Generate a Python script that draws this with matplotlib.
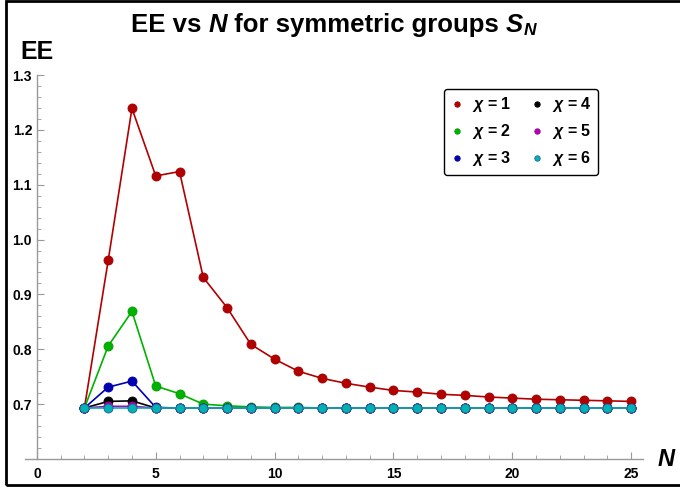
import numpy as np
import matplotlib
matplotlib.use("Agg")
import matplotlib.pyplot as plt
from matplotlib.patches import Rectangle
from matplotlib.ticker import MultipleLocator

plt.rcParams['font.family'] = ['Liberation Sans', 'DejaVu Sans']
plt.rcParams['mathtext.fontset'] = 'custom'
plt.rcParams['mathtext.it'] = 'Liberation Sans:italic:bold'
plt.rcParams['mathtext.rm'] = 'Liberation Sans:bold'

# dati
N = np.arange(2, 26)
ee_chi1 = [0.693, 0.962, 1.239, 1.116, 1.124, 0.931, 0.876, 0.809, 0.782, 0.760,
           0.747, 0.738, 0.731, 0.725, 0.722, 0.718, 0.716, 0.713, 0.711, 0.709,
           0.708, 0.707, 0.706, 0.705]
ee_chi2 = [0.693, 0.806, 0.869, 0.733, 0.719, 0.700, 0.697, 0.695, 0.694, 0.694,
           0.693, 0.693, 0.693, 0.693, 0.693, 0.693, 0.693, 0.693, 0.693, 0.693,
           0.693, 0.693, 0.693, 0.693]
ee_chi3 = [0.693, 0.731, 0.742, 0.694] + [0.693] * 20
ee_chi4 = [0.693, 0.705, 0.706, 0.693] + [0.693] * 20
ee_chi5 = [0.693, 0.696, 0.696, 0.693] + [0.693] * 20
ee_chi6 = [0.693] * 24

series = [ee_chi1, ee_chi2, ee_chi3, ee_chi4, ee_chi5, ee_chi6]
labels = [r"$\chi$ = %d" % (i + 1) for i in range(6)]
colori = ["#b20000", "#00b200", "#0000b2", "#000000", "#b200b2", "#00b2b2"]
bordi = ["#a00000", "#00a000", "#0000a0", "#000000", "#a000a0", "#2060a0"]

fig = plt.figure(figsize=(6.8, 4.87), dpi=100)
ax = fig.add_axes([25/680, 1 - 459/487, 618/680, 384/487])

for y, c, e, lab in zip(series, colori, bordi, labels):
    ax.plot(N, y, "-o", color=c, lw=1.2, ms=6.5, mec=e, mew=0.6, label=lab)

ax.set_xlim(-0.5, 25.5)
ax.set_ylim(0.6, 1.3)
ax.spines['left'].set_position(('data', 0))
ax.spines['right'].set_visible(False)
ax.spines['top'].set_visible(False)
for s in ['left', 'bottom']:
    ax.spines[s].set_color('#999999')
    ax.spines[s].set_linewidth(1.0)

ax.xaxis.set_major_locator(MultipleLocator(5))
ax.xaxis.set_minor_locator(MultipleLocator(1))
ax.yaxis.set_major_locator(MultipleLocator(0.1))
ax.yaxis.set_minor_locator(MultipleLocator(0.02))
ax.set_xticks([0, 5, 10, 15, 20, 25])
ax.set_yticks([0.7, 0.8, 0.9, 1.0, 1.1, 1.2, 1.3])
ax.set_yticklabels(["0.7", "0.8", "0.9", "1.0", "1.1", "1.2", "1.3"])
ax.tick_params(which='both', direction='in', color='#999999')
ax.tick_params(which='major', length=5, width=0.8, labelsize=10)
ax.tick_params(axis='x', which='major', pad=6)
ax.tick_params(axis='y', which='major', pad=3.5)
ax.tick_params(which='minor', length=3, width=0.6)
for t in ax.get_xticklabels() + ax.get_yticklabels():
    t.set_fontweight('bold')

# titolo costruito a pezzi per avere il corsivo
titolo = [("EE vs ", 'normal'), ("N", 'italic'), (" for symmetric groups ", 'normal'), ("S", 'italic')]
r = fig.canvas.get_renderer()
parti = []
for s, st in titolo:
    parti.append(fig.text(0, 1 - 32/487, s, fontsize=18.5, fontweight='bold', style=st, va='baseline'))
pedice = fig.text(0, 1 - 35/487, "N", fontsize=12.5, fontweight='bold', style='italic', va='baseline')
larg = [p.get_window_extent(r).width for p in parti] + [pedice.get_window_extent(r).width]
x = 333.5 - sum(larg) / 2
for p, w in zip(parti + [pedice], larg):
    p.set_x(x / 680)
    x += w

fig.text(20/680, 1 - 52/487, "EE", fontsize=18, fontweight='bold', va='center')
fig.text(666/680, 1 - 460/487, "N", fontsize=17, fontweight='bold', style='italic',
         va='center', ha='center')

leg = ax.legend(ncol=2, loc='upper right', bbox_to_anchor=(598/680, 1 - 89/487),
                bbox_transform=fig.transFigure, markerscale=0.6, handlelength=0.8,
                handletextpad=0.55, columnspacing=1.2, labelspacing=0.5,
                prop={'weight': 'bold', 'size': 11.5}, frameon=True, fancybox=True,
                edgecolor='black', framealpha=1, borderpad=0.4, borderaxespad=0)
for h in leg.legend_handles:
    h.set_linestyle('None')
leg.get_frame().set_linewidth(1.0)

fig.add_artist(Rectangle((6/680, 2/487), 1.0, 1 - 3/487, transform=fig.transFigure,
                         fill=False, lw=2.0, ec='black'))

fig.savefig("out.png", dpi=100)
